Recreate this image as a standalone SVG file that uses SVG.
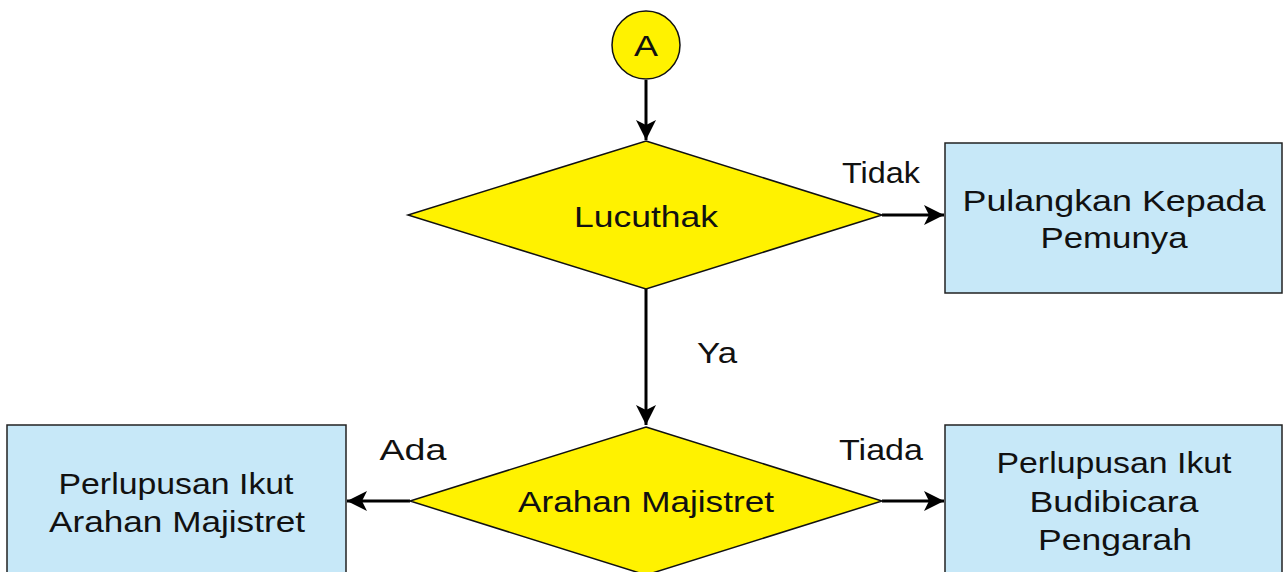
<svg xmlns="http://www.w3.org/2000/svg" width="1283" height="572" viewBox="0 0 1283 572">
<style>
text{font-family:"Liberation Sans",Arial,sans-serif;font-size:30px;fill:#111;text-anchor:middle}
.dec{fill:#FFF200;stroke:#111;stroke-width:1.5}
.box{fill:#C7E8F8;stroke:#222;stroke-width:1.5}
.con{fill:none;stroke:#000;stroke-width:3}
</style>
<defs>
<marker id="ah" markerUnits="userSpaceOnUse" markerWidth="22" markerHeight="22" viewBox="0 0 22 22" refX="20" refY="11" orient="auto">
<path d="M0,1 L20,11 L0,21 L5,11 Z" fill="#000"/>
</marker>
</defs>
<g id="connectors">
<line class="con" x1="646" y1="80" x2="646" y2="140" marker-end="url(#ah)"/>
<line class="con" x1="882" y1="215" x2="944" y2="215" marker-end="url(#ah)"/>
<line class="con" x1="646" y1="289" x2="646" y2="425" marker-end="url(#ah)"/>
<line class="con" x1="410" y1="501" x2="347" y2="501" marker-end="url(#ah)"/>
<line class="con" x1="882" y1="501" x2="944" y2="501" marker-end="url(#ah)"/>
<text x="881" y="183" textLength="78" lengthAdjust="spacingAndGlyphs">Tidak</text>
<text x="717" y="363" textLength="40" lengthAdjust="spacingAndGlyphs">Ya</text>
<text x="413" y="460" textLength="67" lengthAdjust="spacingAndGlyphs">Ada</text>
<text x="881" y="460" textLength="84" lengthAdjust="spacingAndGlyphs">Tiada</text>
</g>
<g id="nodeA">
<circle cx="646" cy="45" r="34" class="dec"/>
<text x="646" y="56" textLength="24" lengthAdjust="spacingAndGlyphs">A</text>
</g>
<g id="lucuthak">
<polygon class="dec" points="646,141 882,215 646,289 408,215"/>
<text x="646" y="227" textLength="144" lengthAdjust="spacingAndGlyphs">Lucuthak</text>
</g>
<g id="pulangkan">
<rect class="box" x="945" y="143" width="337" height="150"/>
<text x="1114" y="211" textLength="303" lengthAdjust="spacingAndGlyphs">Pulangkan Kepada</text>
<text x="1114" y="248" textLength="147" lengthAdjust="spacingAndGlyphs">Pemunya</text>
</g>
<g id="arahan">
<polygon class="dec" points="646,427 882,501 646,575 410,501"/>
<text x="646" y="512" textLength="256" lengthAdjust="spacingAndGlyphs">Arahan Majistret</text>
</g>
<g id="ikutArahan">
<rect class="box" x="7" y="425" width="339" height="160"/>
<text x="176" y="494" textLength="235" lengthAdjust="spacingAndGlyphs">Perlupusan Ikut</text>
<text x="177" y="532" textLength="256" lengthAdjust="spacingAndGlyphs">Arahan Majistret</text>
</g>
<g id="ikutBudibicara">
<rect class="box" x="945" y="425" width="337" height="160"/>
<text x="1114" y="473" textLength="235" lengthAdjust="spacingAndGlyphs">Perlupusan Ikut</text>
<text x="1114" y="512" textLength="169" lengthAdjust="spacingAndGlyphs">Budibicara</text>
<text x="1115" y="550" textLength="154" lengthAdjust="spacingAndGlyphs">Pengarah</text>
</g>
</svg>
